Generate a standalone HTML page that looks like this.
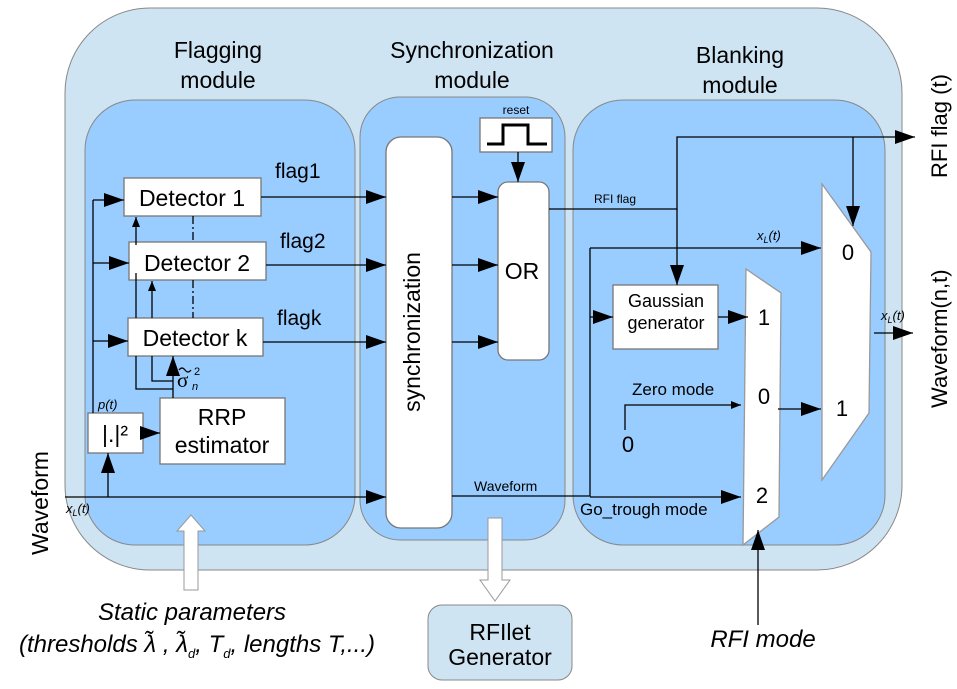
<!DOCTYPE html>
<html><head><meta charset="utf-8"><style>
html,body{margin:0;padding:0;background:#fff;}
svg{display:block;font-family:"Liberation Sans",sans-serif;}
</style></head><body>
<svg width="957" height="689" viewBox="0 0 957 689" xmlns="http://www.w3.org/2000/svg">
<defs>
<marker id="a" markerWidth="10" markerHeight="8" refX="10" refY="4" orient="auto" markerUnits="userSpaceOnUse"><path d="M0,0 L10,4 L0,8 z" fill="#000"/></marker>
<marker id="b" markerWidth="20" markerHeight="14" refX="20" refY="7" orient="auto" markerUnits="userSpaceOnUse"><path d="M0,0 L20,7 L0,14 z" fill="#000"/></marker>
</defs>
<rect x="65" y="8" width="837" height="562" rx="85" fill="#cfe4f2" stroke="#888"/>
<rect x="85" y="100" width="270" height="445" rx="50" fill="#99ccff" stroke="#888"/>
<rect x="360" y="97" width="205" height="443" rx="40" fill="#99ccff" stroke="#888"/>
<rect x="573" y="100" width="312" height="445" rx="50" fill="#99ccff" stroke="#888"/>
<g font-size="23" text-anchor="middle" fill="#000">
<text x="218" y="58">Flagging</text><text x="218" y="88">module</text>
<text x="472" y="58">Synchronization</text><text x="472" y="88">module</text>
<text x="740" y="63">Blanking</text><text x="740" y="93">module</text>
</g>
<g stroke="#000" stroke-width="1.3" fill="none">
<rect x="124" y="178" width="137" height="38" fill="#fff" stroke="#777"/>
<rect x="129" y="242" width="137" height="38" fill="#fff" stroke="#777"/>
<rect x="128" y="318" width="135" height="38" fill="#fff" stroke="#777"/>
<rect x="88" y="413" width="55" height="40" fill="#fff" stroke="#777"/>
<rect x="160" y="398" width="125" height="66" fill="#fff" stroke="#777"/>
<rect x="386" y="137" width="66" height="391" rx="15" fill="#fff" stroke="#777"/>
<rect x="498" y="182" width="51" height="178" rx="10" fill="#fff" stroke="#777"/>
<rect x="480" y="118" width="72" height="34" fill="#fff" stroke="#777"/>
<path d="M487,144 H503 V125 H528 V144 H547" stroke-width="3"/>
<rect x="613" y="285" width="105" height="64" fill="#fff" stroke="#777"/>
<path d="M746,269 L781,293 L779,517 L743,545 Z" fill="#fff" stroke="#999"/>
<path d="M822,184 L871,252 L869,413 L822,480 Z" fill="#fff" stroke="#999"/>
<path d="M93,413 V200"/>
<path d="M93,200 H124" marker-end="url(#b)"/>
<path d="M93,263 H129" marker-end="url(#b)"/>
<path d="M93,341 H128" marker-end="url(#b)"/>
<path d="M193,216 V242" stroke-dasharray="8,3,2,3"/>
<path d="M193,280 V318" stroke-dasharray="8,3,2,3"/>
<path d="M136,318 V273"/>
<path d="M136,245 V217" marker-end="url(#a)"/>
<path d="M152,318 V281" marker-end="url(#a)"/>
<path d="M136,356 V389 H173 M152,356 V381 H173"/>
<path d="M173,398 V356" marker-end="url(#b)"/>
<path d="M143,433 H160" marker-end="url(#b)"/>
<path d="M108,497 V453" marker-end="url(#b)"/>
<path d="M65,497 H386" marker-end="url(#b)"/>
<path d="M261,197 H386" marker-end="url(#b)"/>
<path d="M266,265 H386" marker-end="url(#b)"/>
<path d="M263,342 H386" marker-end="url(#b)"/>
<path d="M452,197 H498" marker-end="url(#b)"/>
<path d="M452,265 H498" marker-end="url(#b)"/>
<path d="M452,342 H498" marker-end="url(#b)"/>
<path d="M518,152 V182" marker-end="url(#b)"/>
<path d="M549,209 H677 V137 H853"/>
<path d="M853,137 H915" marker-end="url(#b)"/>
<path d="M677,209 V285" marker-end="url(#b)"/>
<path d="M853,137 V226" marker-end="url(#b)"/>
<path d="M452,496 H590 V248"/>
<path d="M590,248 H821" marker-end="url(#b)"/>
<path d="M590,317 H613" marker-end="url(#b)"/>
<path d="M718,317 H748" marker-end="url(#b)"/>
<path d="M625,430 V405 H741" marker-end="url(#a)"/>
<path d="M778,409 H821" marker-end="url(#b)"/>
<path d="M590,497 H741" marker-end="url(#b)"/>
<path d="M874,333 H913" marker-end="url(#b)"/>
<path d="M758,625 V530" marker-end="url(#b)"/>
<path d="M179,370 q3,-4 6,0 t6,0" stroke-width="1.2"/>
</g>
<path d="M184,590 V531 H177 L191,515 L205,531 H198 V590 Z" fill="#fff" stroke="#999"/>
<path d="M488,518 V580 H480 L495,601 L510,580 H502 V518 Z" fill="#fff" stroke="#999"/>
<rect x="428" y="605" width="144" height="75" rx="14" fill="#cfe4f2" stroke="#888"/>
<g fill="#000">
<g font-size="23" text-anchor="middle">
<text x="192" y="206">Detector 1</text>
<text x="197" y="271">Detector 2</text>
<text x="195" y="346">Detector k</text>
<text x="222" y="425">RRP</text><text x="222" y="453">estimator</text>
<text x="115" y="442">|.|²</text>
<text x="522" y="279">OR</text>
<text x="500" y="640">RFIlet</text><text x="500" y="665">Generator</text>
</g>
<g font-size="21"><text x="275" y="178">flag1</text><text x="280" y="248">flag2</text><text x="277" y="325">flagk</text></g>
<text x="420" y="332" font-size="23" text-anchor="middle" transform="rotate(-90 420 332)">synchronization</text>
<text x="516" y="114" font-size="12" text-anchor="middle">reset</text>
<text x="594" y="203" font-size="12">RFI flag</text>
<text x="474" y="491" font-size="14">Waveform</text>
<text x="177" y="387" font-size="21" font-family="Liberation Serif,serif">σ</text>
<text x="194" y="375" font-size="11">2</text><text x="192" y="390" font-size="11" font-style="italic">n</text>
<text x="98" y="409" font-size="13" font-style="italic">p(t)</text>
<text x="66" y="513" font-size="13" font-style="italic">x<tspan font-size="9" dy="3">L</tspan><tspan dy="-3">(t)</tspan></text>
<text x="757" y="240" font-size="13" font-style="italic">x<tspan font-size="9" dy="3">L</tspan><tspan dy="-3">(t)</tspan></text>
<text x="881" y="320" font-size="13" font-style="italic">x<tspan font-size="9" dy="3">L</tspan><tspan dy="-3">(t)</tspan></text>
<g font-size="18" text-anchor="middle"><text x="666" y="307">Gaussian</text><text x="666" y="329">generator</text></g>
<text x="632" y="395" font-size="17">Zero mode</text>
<text x="580" y="515" font-size="17">Go_trough mode</text>
<g font-size="22" text-anchor="middle">
<text x="764" y="325">1</text><text x="764" y="404">0</text><text x="762" y="503">2</text>
<text x="848" y="260">0</text><text x="842" y="416">1</text>
<text x="628" y="452">0</text>
</g>
<text x="48" y="555" font-size="23" transform="rotate(-90 48 555)">Waveform</text>
<text x="947" y="178" font-size="22" transform="rotate(-90 947 178)">RFI flag (t)</text>
<text x="947" y="408" font-size="22" transform="rotate(-90 947 408)">Waveform(n,t)</text>
<g font-size="24" font-style="italic" text-anchor="middle">
<text x="192" y="620">Static  parameters</text>
<text x="197" y="652">(thresholds λ̃ , λ̃<tspan font-size="13" dy="6">d</tspan><tspan dy="-6">, T</tspan><tspan font-size="13" dy="6">d</tspan><tspan dy="-6">, lengths T,...)</tspan></text>
<text x="763" y="647">RFI mode</text>
</g>
</g>
</svg>
</body></html>
